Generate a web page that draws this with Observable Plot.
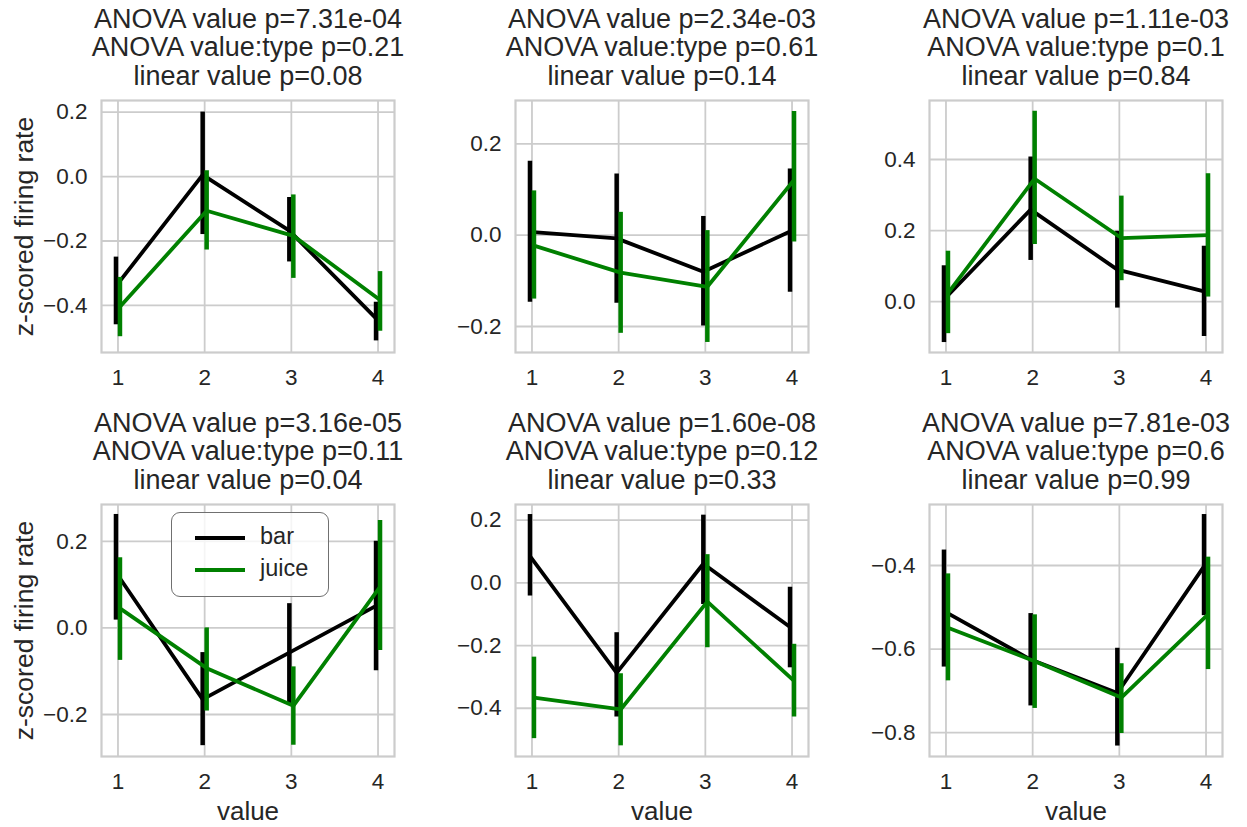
<!DOCTYPE html>
<html>
<head>
<meta charset="utf-8">
<script src="https://cdn.jsdelivr.net/npm/d3@7"></script>
<script src="https://cdn.jsdelivr.net/npm/@observablehq/plot@0.6"></script>
<style>
  html, body { margin: 0; padding: 0; background: #fff; }
  #root { position: relative; width: 1247px; height: 827px; overflow: hidden; font-family: "Liberation Sans", Arial, sans-serif; color: #262626; }
  .panel { position: absolute; }
  .legend { position: absolute; box-sizing: border-box; border: 1.6px solid #707070; border-radius: 9px; background: rgba(255,255,255,0.8); font-size: 23.5px; }
  .legend .swatch { position: absolute; height: 4.2px; width: 50px; }
  .legend .lab { position: absolute; white-space: nowrap; line-height: 1; }
</style>
</head>
<body>
<div id="root"></div>
<script>
// x categories
const values = [1, 2, 3, 4];
const seriesNames = ["bar", "juice"];

// Titles (three lines each)
const titles = [
  ["ANOVA value p=7.31e-04", "ANOVA value:type p=0.21", "linear value p=0.08"],
  ["ANOVA value p=2.34e-03", "ANOVA value:type p=0.61", "linear value p=0.14"],
  ["ANOVA value p=1.11e-03", "ANOVA value:type p=0.1", "linear value p=0.84"],
  ["ANOVA value p=3.16e-05", "ANOVA value:type p=0.11", "linear value p=0.04"],
  ["ANOVA value p=1.60e-08", "ANOVA value:type p=0.12", "linear value p=0.33"],
  ["ANOVA value p=7.81e-03", "ANOVA value:type p=0.6", "linear value p=0.99"]
];

// [mean, ci low, ci high] for value 1..4
const p1Bar   = [[-0.340, -0.460, -0.250], [0.005, -0.180, 0.200], [-0.168, -0.265, -0.065], [-0.440, -0.510, -0.390]];
const p1Juice = [[-0.404, -0.497, -0.313], [-0.106, -0.228, 0.018], [-0.184, -0.316, -0.057], [-0.383, -0.480, -0.295]];
const p2Bar   = [[0.007, -0.147, 0.162], [-0.007, -0.149, 0.134], [-0.080, -0.199, 0.041], [0.008, -0.125, 0.145]];
const p2Juice = [[-0.023, -0.140, 0.097], [-0.082, -0.215, 0.050], [-0.113, -0.235, 0.010], [0.121, -0.015, 0.271]];
const p3Bar   = [[0.006, -0.115, 0.101], [0.259, 0.116, 0.407], [0.090, -0.018, 0.198], [0.029, -0.098, 0.156]];
const p3Juice = [[0.024, -0.090, 0.142], [0.346, 0.161, 0.536], [0.179, 0.059, 0.297], [0.187, 0.013, 0.360]];
const p4Bar   = [[0.128, 0.018, 0.262], [-0.165, -0.272, -0.057], [-0.057, -0.175, 0.056], [0.051, -0.099, 0.200]];
const p4Juice = [[0.045, -0.075, 0.162], [-0.093, -0.192, 0.000], [-0.180, -0.271, -0.090], [0.095, -0.052, 0.248]];
const p5Bar   = [[0.085, -0.042, 0.218], [-0.287, -0.428, -0.159], [0.061, -0.069, 0.216], [-0.141, -0.271, -0.014]];
const p5Juice = [[-0.366, -0.497, -0.237], [-0.404, -0.520, -0.290], [-0.060, -0.207, 0.090], [-0.313, -0.428, -0.196]];
const p6Bar   = [[-0.509, -0.643, -0.363], [-0.625, -0.736, -0.515], [-0.705, -0.832, -0.598], [-0.402, -0.520, -0.278]];
const p6Juice = [[-0.549, -0.676, -0.420], [-0.629, -0.742, -0.518], [-0.716, -0.802, -0.635], [-0.517, -0.649, -0.380]];

// y tick values per panel
const p1Ticks = [-0.4, -0.2, 0.0, 0.2];
const p2Ticks = [-0.2, 0.0, 0.2];
const p3Ticks = [0.0, 0.2, 0.4];
const p4Ticks = [-0.2, 0.0, 0.2];
const p5Ticks = [-0.4, -0.2, 0.0, 0.2];
const p6Ticks = [-0.8, -0.6, -0.4];

const yLabel = "z-scored firing rate";
const xLabel = "value";

// ---------- layout ----------
const FW = 293, FH = 252;
const ML = 100, MR = 14, MT = 99, MB = 75;
const colLeft = [101, 515, 929];
const rowTop = [99.5, 503.5];
const COLORS = {bar: "#000000", juice: "#008000"};
const DX = {bar: -2, juice: 2};

const panels = [
  {bar: p1Bar, juice: p1Juice, ticks: p1Ticks, yDomain: [-0.546, 0.236]},
  {bar: p2Bar, juice: p2Juice, ticks: p2Ticks, yDomain: [-0.257, 0.295]},
  {bar: p3Bar, juice: p3Juice, ticks: p3Ticks, yDomain: [-0.143, 0.566]},
  {bar: p4Bar, juice: p4Juice, ticks: p4Ticks, yDomain: [-0.297, 0.285]},
  {bar: p5Bar, juice: p5Juice, ticks: p5Ticks, yDomain: [-0.554, 0.250]},
  {bar: p6Bar, juice: p6Juice, ticks: p6Ticks, yDomain: [-0.857, -0.254]}
];

const root = document.getElementById("root");

panels.forEach((p, i) => {
  const col = i % 3, row = Math.floor(i / 3);
  const toRows = (arr, type) => arr.map((d, k) => ({value: values[k], mean: d[0], lo: d[1], hi: d[2], type}));
  const series = {bar: toRows(p.bar, "bar"), juice: toRows(p.juice, "juice")};
  const marks = [
    Plot.gridX(values, {stroke: "#cccccc", strokeOpacity: 1, strokeWidth: 1.8}),
    Plot.gridY(p.ticks, {stroke: "#cccccc", strokeOpacity: 1, strokeWidth: 1.8}),
    Plot.frame({stroke: "#cccccc", strokeWidth: 2.2}),
    Plot.axisX(values, {tickSize: 0, tickPadding: 17, fontSize: 22.5, tickFormat: d => String(d), label: null}),
    Plot.axisY(p.ticks, {tickSize: 0, tickPadding: 14, fontSize: 22.5, tickFormat: d3.format(".1f"), label: null})
  ];
  for (const s of seriesNames) {
    marks.push(Plot.ruleX(series[s], {x: "value", y1: "lo", y2: "hi", stroke: COLORS[s], strokeWidth: 4.5, dx: DX[s]}));
    marks.push(Plot.line(series[s], {x: "value", y: "mean", stroke: COLORS[s], strokeWidth: 3.8, strokeLinejoin: "round", dx: DX[s]}));
  }
  marks.push(Plot.text([titles[i].join("\n")], {frameAnchor: "top", dy: -15.5, lineAnchor: "bottom", lineHeight: 1.06, fontSize: 27, fill: "#262626"}));
  if (col === 0) {
    marks.push(Plot.text([yLabel], {frameAnchor: "left", dx: -77, rotate: -90, textAnchor: "middle", lineAnchor: "middle", fontSize: 26.5, fill: "#262626"}));
  }
  if (row === 1) {
    marks.push(Plot.text([xLabel], {frameAnchor: "bottom", dy: 55, lineAnchor: "middle", fontSize: 26, fill: "#262626"}));
  }
  const chart = Plot.plot({
    width: ML + FW + MR,
    height: MT + FH + MB,
    marginLeft: ML, marginRight: MR, marginTop: MT, marginBottom: MB,
    x: {type: "linear", domain: [0.81, 4.19]},
    y: {type: "linear", domain: p.yDomain},
    style: {fontFamily: "'Liberation Sans', Arial, sans-serif", fontSize: "22px", color: "#262626", background: "transparent", overflow: "visible"},
    marks
  });
  const wrap = document.createElement("div");
  wrap.className = "panel";
  wrap.style.left = (colLeft[col] - ML) + "px";
  wrap.style.top = (rowTop[row] - MT) + "px";
  wrap.appendChild(chart);
  root.appendChild(wrap);
});

// Legend (in panel 4)
const legend = document.createElement("div");
legend.className = "legend";
legend.style.left = "171px";
legend.style.top = "512px";
legend.style.width = "158px";
legend.style.height = "85px";
const rowsY = [25, 57];
seriesNames.forEach((s, k) => {
  const sw = document.createElement("div");
  sw.className = "swatch";
  sw.style.background = COLORS[s];
  sw.style.left = "23px";
  sw.style.top = (rowsY[k] - 2) + "px";
  legend.appendChild(sw);
  const lab = document.createElement("div");
  lab.className = "lab";
  lab.textContent = s;
  lab.style.left = "88px";
  lab.style.top = (rowsY[k] - 13) + "px";
  legend.appendChild(lab);
});
root.appendChild(legend);
</script>
</body>
</html>
